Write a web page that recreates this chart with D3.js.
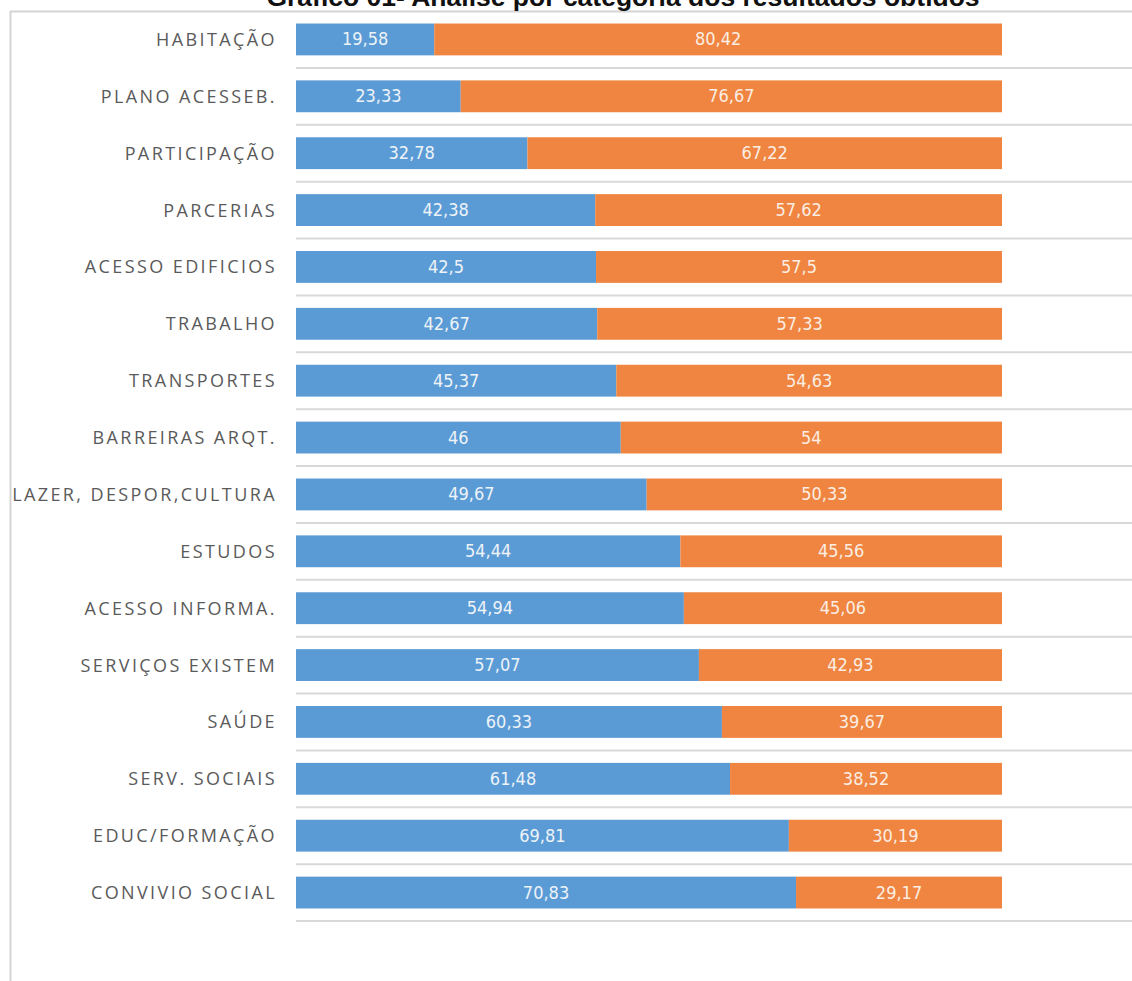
<!DOCTYPE html>
<html><head><meta charset="utf-8">
<script src="https://cdn.jsdelivr.net/npm/d3@7"></script>
<style>body{margin:0;background:#fff}svg{display:block}</style>
</head><body>
<script>
const categories = ["HABITAÇÃO","PLANO ACESSEB.","PARTICIPAÇÃO","PARCERIAS","ACESSO EDIFICIOS","TRABALHO","TRANSPORTES","BARREIRAS ARQT.","LAZER, DESPOR,CULTURA","ESTUDOS","ACESSO INFORMA.","SERVIÇOS EXISTEM","SAÚDE","SERV. SOCIAIS","EDUC/FORMAÇÃO","CONVIVIO SOCIAL"];
const blueValues = [19.58,23.33,32.78,42.38,42.5,42.67,45.37,46,49.67,54.44,54.94,57.07,60.33,61.48,69.81,70.83];
const orangeValues = [80.42,76.67,67.22,57.62,57.5,57.33,54.63,54,50.33,45.56,45.06,42.93,39.67,38.52,30.19,29.17];
const blueLabels = ["19,58","23,33","32,78","42,38","42,5","42,67","45,37","46","49,67","54,44","54,94","57,07","60,33","61,48","69,81","70,83"];
const orangeLabels = ["80,42","76,67","67,22","57,62","57,5","57,33","54,63","54","50,33","45,56","45,06","42,93","39,67","38,52","30,19","29,17"];
const title = "Gráfico 01- Análise por categoria dos resultados obtidos";

const W = 1132, H = 981;
const svg = d3.select("body").append("svg").attr("width", W).attr("height", H);

const x = d3.scaleLinear().domain([0, 100]).range([296, 1002]);
const y = d3.scaleBand().domain(categories).range([11, 921]).paddingInner(0.44).paddingOuter(0.22);

// frame
svg.append("line").attr("x1", 10).attr("x2", W).attr("y1", 11.5).attr("y2", 11.5).attr("stroke", "#d4d4d4").attr("stroke-width", 2);
svg.append("line").attr("x1", 10.5).attr("x2", 10.5).attr("y1", 11).attr("y2", H).attr("stroke", "#d4d4d4").attr("stroke-width", 2);

// row gridlines
const gridYs = d3.range(1, categories.length + 1).map(i => 11 + i * (910 / categories.length));
svg.selectAll("line.grid").data(gridYs).enter().append("line")
  .attr("x1", 296).attr("x2", W).attr("y1", d => d).attr("y2", d => d)
  .attr("stroke", "#d9d9d9").attr("stroke-width", 2);

// title
svg.append("text").attr("x", 623).attr("y", 6).attr("text-anchor", "middle")
  .attr("font-family", "Liberation Sans, Arial, sans-serif").attr("font-weight", "bold")
  .attr("font-size", 26.5).attr("fill", "#111").text(title);

const data = categories.map((c, i) => ({c, b: blueValues[i], o: orangeValues[i], bl: blueLabels[i], ol: orangeLabels[i]}));

const g = svg.append("g");
g.selectAll("rect.b").data(data).enter().append("rect")
  .attr("x", x(0)).attr("y", d => y(d.c)).attr("width", d => x(d.b) - x(0)).attr("height", y.bandwidth())
  .attr("fill", "#5b9bd5");
g.selectAll("rect.o").data(data).enter().append("rect")
  .attr("x", d => x(d.b)).attr("y", d => y(d.c)).attr("width", d => x(d.b + d.o) - x(d.b)).attr("height", y.bandwidth())
  .attr("fill", "#ef8540");

const vf = "Liberation Sans Narrow, DejaVu Sans Condensed, sans-serif";
g.selectAll("text.bl").data(data).enter().append("text")
  .attr("x", d => (x(0) + x(d.b)) / 2).attr("y", d => y(d.c) + y.bandwidth() / 2 + 6)
  .attr("text-anchor", "middle").attr("font-family", vf).attr("font-size", 18).attr("fill", "#eef3f8").text(d => d.bl);
g.selectAll("text.ol").data(data).enter().append("text")
  .attr("x", d => (x(d.b) + x(100)) / 2).attr("y", d => y(d.c) + y.bandwidth() / 2 + 6)
  .attr("text-anchor", "middle").attr("font-family", vf).attr("font-size", 18).attr("fill", "#fbeee4").text(d => d.ol);

// category labels
svg.selectAll("text.cat").data(categories).enter().append("text")
  .attr("x", 277).attr("y", d => y(d) + y.bandwidth() / 2 + 6.5)
  .attr("text-anchor", "end").attr("font-family", "Open Sans, sans-serif").attr("font-size", 18)
  .attr("letter-spacing", "2.4px").attr("fill", "#5a5a5a").text(d => d);
</script>
</body></html>
